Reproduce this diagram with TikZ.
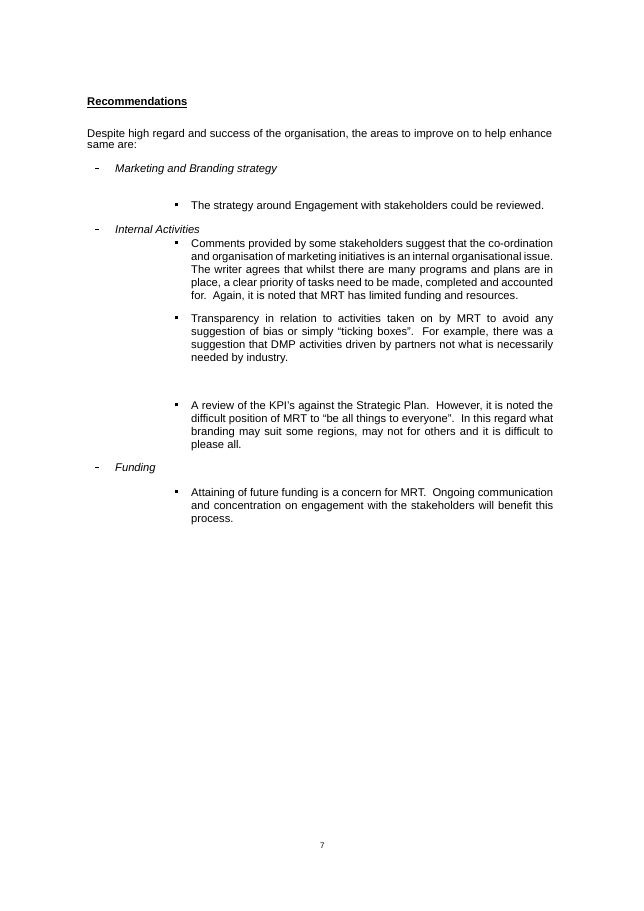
\documentclass[tikz,border=0pt]{standalone}
\usepackage{fontspec}
\setmainfont{Liberation Sans}
\newcommand{\sqbul}{\rule[0.55ex]{3.2pt}{3.2pt}}
\newcommand{\mydash}{\rule[0.7ex]{4pt}{0.6pt}}
\begin{document}
\begin{tikzpicture}[x=1pt,y=-1pt,
  txt/.style={anchor=north west,inner sep=0pt,font=\fontsize{11.2}{13}\selectfont},
  mk/.style={anchor=base west,inner sep=0pt,font=\fontsize{11.2}{13}\selectfont},
  para/.style={txt,text width=362pt,align=justify}]
\useasboundingbox[fill=white] (0,0) rectangle (644,911);
\node[txt] (h) at (87,97) {\textbf{\underline{Recommendations}}};
\node[txt] (intro) at (87,129) {Despite high regard and success of the organisation, the areas to improve on to help enhance};
\node[txt] (intro2) at (87,142) {same are:};
\node[txt] (s1) at (115,164) {\textit{Marketing and Branding strategy}};
\node[mk] (d1) at (95,172.5) {\mydash};
\node[txt] (p1) at (191,201) {The strategy around Engagement with stakeholders could be reviewed.};
\node[mk] (b1) at (175,209.5) {\sqbul};
\node[txt] (s2) at (115,225) {\textit{Internal Activities}};
\node[mk] (d2) at (95,233.5) {\mydash};
\node[para] (p2) at (191,239) {Comments provided by some stakeholders suggest that the co-ordination\linebreak and organisation of marketing initiatives is an internal organisational issue.\linebreak The writer agrees that whilst there are many programs and plans are in\linebreak place, a clear priority of tasks need to be made, completed and accounted\linebreak for.\ \ Again, it is noted that MRT has limited funding and resources.};
\node[mk] (b2) at (175,247.5) {\sqbul};
\node[para] (p3) at (191,314) {Transparency in relation to activities taken on by MRT to avoid any\linebreak suggestion of bias or simply ``ticking boxes''.\ \ For example, there was a\linebreak suggestion that DMP activities driven by partners not what is necessarily\linebreak needed by industry.};
\node[mk] (b3) at (175,322.5) {\sqbul};
\node[para] (p4) at (191,401) {A review of the KPI's against the Strategic Plan.\ \ However, it is noted the\linebreak difficult position of MRT to ``be all things to everyone''.\ \ In this regard what\linebreak branding may suit some regions, may not for others and it is difficult to\linebreak please all.};
\node[mk] (b4) at (175,409.5) {\sqbul};
\node[txt] (s3) at (115,463) {\textit{Funding}};
\node[mk] (d3) at (95,471.5) {\mydash};
\node[para] (p5) at (191,488) {Attaining of future funding is a concern for MRT.\ \ Ongoing communication\linebreak and concentration on engagement with the stakeholders will benefit this\linebreak process.};
\node[mk] (b5) at (175,496.5) {\sqbul};
\node[txt,font=\fontsize{8}{10}\selectfont] (pg) at (320,843) {7};
\end{tikzpicture}
\end{document}
